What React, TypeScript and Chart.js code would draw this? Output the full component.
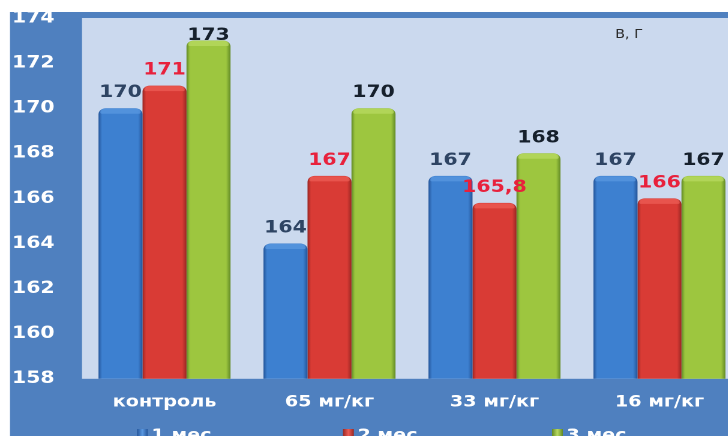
import React, { useEffect, useRef } from "react";
import { Chart, registerables } from "chart.js";

Chart.register(...registerables);

const categories = ["контроль", "65 мг/кг", "33 мг/кг", "16 мг/кг"];
const seriesNames = ["1 мес", "2 мес", "3 мес"];
const month1 = [170, 164, 167, 167];
const month2 = [171, 167, 165.8, 166];
const month3 = [173, 170, 168, 167];
const yMin = 158;
const yMax = 174;
const yStep = 2;
const unitLabel = "В, Г";

const SX = 1.2; // horizontal stretch of the original picture
const W = 620;
const H = 436;

const barColors = [
  { dark: "#24559a", base: "#3d80d0", light: "#5a98e0", label: "#2e4463" },
  { dark: "#9a2723", base: "#d93b35", light: "#ec5d55", label: "#e8213c" },
  { dark: "#628a26", base: "#9dc63f", light: "#b8da62", label: "#16202c" },
];

const FONT = "'DejaVu Sans', Verdana, sans-serif";

const fmt = (v: number) => String(v).replace(".", ",");

const backgroundPlugin = {
  id: "bgPlugin",
  beforeDraw(chart: any) {
    const { ctx, chartArea, width, height } = chart;
    ctx.save();
    ctx.fillStyle = "#ffffff";
    ctx.fillRect(0, 0, width, height);
    ctx.fillStyle = "#4f80bf";
    ctx.fillRect(10 / SX, 12, width, height);
    ctx.fillStyle = "#cbd9ee";
    ctx.fillRect(chartArea.left, chartArea.top, chartArea.right - chartArea.left, chartArea.bottom - chartArea.top);
    ctx.restore();
  },
  beforeDatasetsDraw(chart: any) {
    const { ctx } = chart;
    chart.data.datasets.forEach((_ds: any, di: number) => {
      const meta = chart.getDatasetMeta(di);
      const c = barColors[di];
      meta.data.forEach((bar: any) => {
        const w = bar.width;
        const x0 = bar.x - w / 2;
        const g = ctx.createLinearGradient(x0, 0, x0 + w, 0);
        g.addColorStop(0, c.dark);
        g.addColorStop(0.08, c.base);
        g.addColorStop(0.45, c.base);
        g.addColorStop(0.9, c.base);
        g.addColorStop(1, c.dark);
        bar.options = { ...bar.options, backgroundColor: g };
      });
    });
  },
  afterDatasetsDraw(chart: any) {
    const { ctx, chartArea } = chart;
    ctx.save();
    // top caps
    chart.data.datasets.forEach((_ds: any, di: number) => {
      const meta = chart.getDatasetMeta(di);
      const c = barColors[di];
      meta.data.forEach((bar: any) => {
        const w = bar.width;
        ctx.fillStyle = c.light;
        ctx.globalAlpha = 0.75;
        ctx.beginPath();
        ctx.roundRect(bar.x - w / 2 + 1.5, bar.y + 0.5, w - 3, 5, [5, 5, 2, 2]);
        ctx.fill();
        ctx.globalAlpha = 1;
      });
    });
    // value labels
    ctx.font = `bold 17px ${FONT}`;
    ctx.textAlign = "center";
    ctx.textBaseline = "alphabetic";
    chart.data.datasets.forEach((ds: any, di: number) => {
      const meta = chart.getDatasetMeta(di);
      ctx.fillStyle = barColors[di].label;
      meta.data.forEach((bar: any, i: number) => {
        const y = Math.max(bar.y - 11, chartArea.top + 22);
        ctx.fillText(fmt(ds.data[i]), bar.x, y);
      });
    });
    // unit label
    ctx.font = `12px ${FONT}`;
    ctx.fillStyle = "#2a2a2a";
    ctx.fillText(unitLabel, 629 / SX, 38);
    // legend
    const starts = [137 / SX, 343 / SX, 552 / SX];
    ctx.font = `bold 16px ${FONT}`;
    ctx.textAlign = "left";
    seriesNames.forEach((name, i) => {
      const x = starts[i];
      const c = barColors[i];
      const g = ctx.createLinearGradient(x, 0, x + 9, 0);
      g.addColorStop(0, c.dark);
      g.addColorStop(0.5, c.light);
      g.addColorStop(1, c.dark);
      ctx.fillStyle = g;
      ctx.fillRect(x, 429, 9, 10);
      ctx.fillStyle = "#ffffff";
      ctx.fillText(name, x + 12, 440);
    });
    ctx.restore();
  },
};

export default function App() {
  const ref = useRef<HTMLCanvasElement | null>(null);
  useEffect(() => {
    document.body.style.margin = "0";
    const canvas = ref.current;
    if (!canvas) return;
    const datasets = [month1, month2, month3].map((d, i) => ({
      label: seriesNames[i],
      data: d,
      backgroundColor: barColors[i].base,
      borderWidth: 0,
      borderRadius: { topLeft: 6, topRight: 6, bottomLeft: 0, bottomRight: 0 },
      borderSkipped: "bottom" as const,
      categoryPercentage: 0.8,
      barPercentage: 1.0,
    }));
    const chart = new Chart(canvas, {
      type: "bar",
      data: { labels: categories, datasets },
      options: {
        responsive: false,
        animation: false,
        devicePixelRatio: 2,
        layout: { padding: { top: 18, left: 10, right: 1.7, bottom: 10 } },
        plugins: { legend: { display: false }, tooltip: { enabled: false } },
        scales: {
          x: {
            grid: { display: false, drawTicks: false },
            border: { display: false },
            ticks: {
              color: "#ffffff",
              font: { family: FONT, size: 16, weight: "bold" },
              padding: 14,
              maxRotation: 0,
            },
          },
          y: {
            min: yMin,
            max: yMax,
            grid: { display: false, drawTicks: false },
            border: { display: false },
            ticks: {
              stepSize: yStep,
              color: "#ffffff",
              crossAlign: "far",
              font: { family: FONT, size: 17, weight: "bold" },
            },
            afterFit(scale: any) {
              scale.width = 82 / SX - 10;
            },
          },
        },
      },
      plugins: [backgroundPlugin],
    });
    return () => chart.destroy();
  }, []);
  return (
    <div style={{ position: "absolute", left: 0, top: 0, width: 728, height: 436, overflow: "hidden" }}>
      <div style={{ width: W, height: H, transform: `scaleX(${SX})`, transformOrigin: "0 0" }}>
        <canvas ref={ref} width={W} height={H} style={{ width: W, height: H, display: "block" }} />
      </div>
    </div>
  );
}
